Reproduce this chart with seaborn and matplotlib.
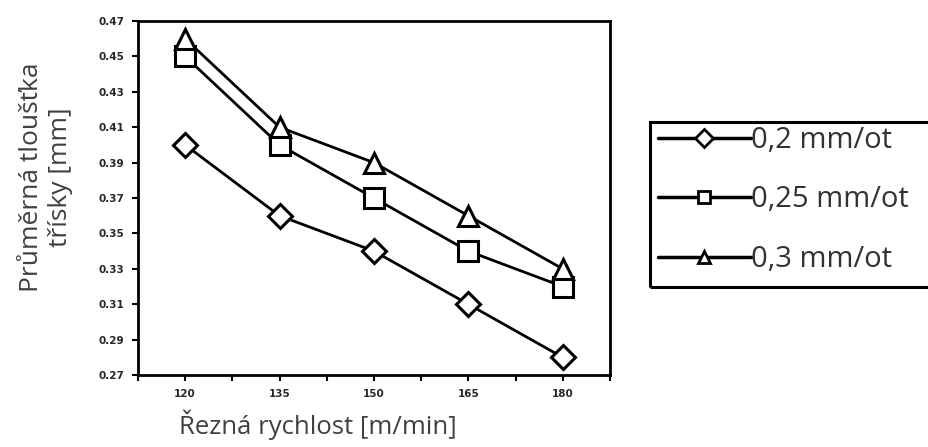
import matplotlib
matplotlib.use("Agg")
import matplotlib.pyplot as plt
from matplotlib.patches import Rectangle
import seaborn as sns
import pandas as pd

speeds = [120, 135, 150, 165, 180]
s_02 = [0.40, 0.36, 0.34, 0.31, 0.28]
s_025 = [0.45, 0.40, 0.37, 0.34, 0.32]
s_03 = [0.46, 0.41, 0.39, 0.36, 0.33]
labels = ["0,2 mm/ot", "0,25 mm/ot", "0,3 mm/ot"]
yticks = [0.27, 0.29, 0.31, 0.33, 0.35, 0.37, 0.39, 0.41, 0.43, 0.45, 0.47]

df = pd.DataFrame({
    "v": speeds * 3,
    "h": s_02 + s_025 + s_03,
    "s": [labels[0]] * 5 + [labels[1]] * 5 + [labels[2]] * 5,
})

sns.set_theme(style="white")
plt.rcParams['font.family'] = ['Open Sans', 'DejaVu Sans']

fig = plt.figure(figsize=(9.29, 4.47), dpi=100)
ax = fig.add_axes([0.1485, 0.161, 0.508, 0.792])

markers = {labels[0]: "D", labels[1]: "s", labels[2]: "^"}
sns.lineplot(data=df, x="v", y="h", hue="s", style="s", markers=markers,
             dashes=False, palette=["black"] * 3, ax=ax, linewidth=2,
             markersize=15, markerfacecolor="white", markeredgecolor="black",
             markeredgewidth=2.2, legend=True)
for line in ax.lines:
    if line.get_marker() == "D":
        line.set_markersize(12.5)

ax.set_xlim(112.5, 187.5)
ax.set_ylim(0.27, 0.47)
ax.set_xticks(speeds)
ax.set_xticks([112.5, 127.5, 142.5, 157.5, 172.5, 187.5], minor=True)
ax.set_xticklabels([str(s) for s in speeds], fontsize=7.5, fontweight="bold",
                   family="Liberation Sans Narrow")
ax.set_yticks(yticks)
ax.set_yticklabels([f"{t:.2f}" for t in yticks], fontsize=7.5, fontweight="bold",
                   family="Liberation Sans Narrow")
ax.tick_params(axis="both", which="both", direction="out", length=4, width=1.5,
               color="black", pad=6, bottom=True, left=True)
for sp in ax.spines.values():
    sp.set_color("black")
    sp.set_linewidth(2)

ax.set_xlabel("Řezná rychlost [m/min]", fontsize=18.5, color="#404040")
ax.xaxis.set_label_coords(0.381, -0.097)
ax.set_ylabel("Průměrná tloušťka\ntřísky [mm]", fontsize=19, color="#404040")
ax.yaxis.set_label_coords(-0.138, 0.559)

handles, lbls = ax.get_legend_handles_labels()
ax.get_legend().remove()
for h in handles:
    h.set_markerfacecolor("white")
    h.set_markeredgecolor("black")
    h.set_markeredgewidth(2)
    h.set_markersize(9)
    h.set_linewidth(2.5)
    h.set_color("black")
leg = fig.legend(handles, lbls, loc="upper left",
                 bbox_to_anchor=(652 / 929, 1 - 120 / 447),
                 fontsize=21, frameon=False, handlelength=3.2,
                 handletextpad=0.0, labelspacing=1.05, borderpad=0.2,
                 borderaxespad=0.0, labelcolor="#333333")
fig.patches.append(Rectangle((650 / 929, 1 - 287 / 447), 290 / 929, 165 / 447,
                             transform=fig.transFigure, fill=False,
                             edgecolor="black", linewidth=2.2))

fig.savefig("out.png", dpi=100)
